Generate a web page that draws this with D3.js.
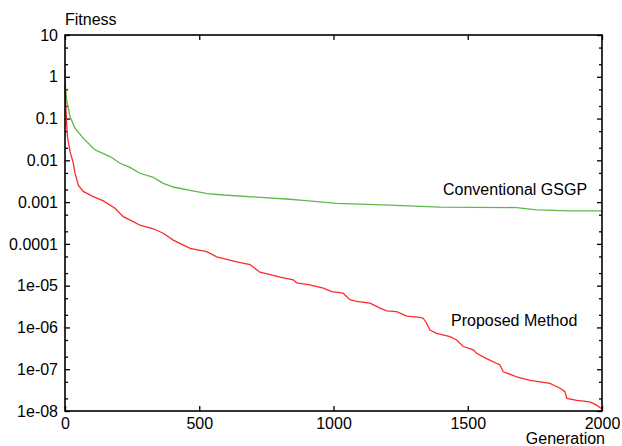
<!DOCTYPE html>
<html>
<head>
<meta charset="utf-8">
<script src="https://cdn.jsdelivr.net/npm/d3@7"></script>
<style>
  body { margin: 0; background: #fff; }
  svg text { font-family: "Liberation Sans", Arial, sans-serif; font-size: 16px; fill: #000; }
</style>
</head>
<body>
<svg id="chart"></svg>
<script>
// generations and best fitness
const propGen = [0, 3, 6, 9, 19, 31, 37, 50, 68, 105, 143, 186, 217, 254, 279, 329, 366, 403, 466, 528, 565, 640, 689, 726, 801, 850, 863, 912, 962, 993, 1036, 1061, 1086, 1136, 1173, 1198, 1235, 1273, 1322, 1334, 1347, 1359, 1384, 1434, 1459, 1483, 1521, 1533, 1570, 1620, 1632, 1682, 1732, 1806, 1844, 1862, 1869, 1906, 1955, 1980, 2000];
const propFit = [0.63, 0.2, 0.08, 0.037, 0.016, 0.0085, 0.005, 0.0025, 0.0018, 0.00135, 0.00107, 7.1e-4, 4.5e-4, 3.4e-4, 2.8e-4, 2.3e-4, 1.8e-4, 1.23e-4, 7.8e-5, 6.5e-5, 4.9e-5, 3.7e-5, 3.2e-5, 2.1e-5, 1.6e-5, 1.38e-5, 1.17e-5, 1.05e-5, 8.7e-6, 7.2e-6, 6.6e-6, 4.6e-6, 4.2e-6, 3.8e-6, 2.9e-6, 2.5e-6, 2.4e-6, 1.86e-6, 1.74e-6, 1.66e-6, 1.26e-6, 8.7e-7, 7.2e-7, 6.0e-7, 5.0e-7, 3.5e-7, 2.9e-7, 2.4e-7, 1.8e-7, 1.26e-7, 8.7e-8, 6.6e-8, 5.4e-8, 4.6e-8, 3.5e-8, 2.9e-8, 2.0e-8, 1.8e-8, 1.66e-8, 1.38e-8, 1.12e-8];

const convGen = [0, 2, 6, 19, 37, 68, 105, 118, 168, 205, 242, 279, 329, 366, 403, 466, 530, 590, 714, 838, 875, 1012, 1210, 1397, 1682, 1756, 1880, 2000];
const convFit = [1.5, 0.6, 0.28, 0.11, 0.059, 0.034, 0.0195, 0.017, 0.0123, 0.0085, 0.0068, 0.0049, 0.0039, 0.0028, 0.0023, 0.0019, 0.0016, 0.00148, 0.00132, 0.00117, 0.00112, 0.00093, 0.00085, 0.00076, 0.00074, 0.00065, 0.00062, 0.00062];

const yTicks = [10, 1, 0.1, 0.01, 0.001, 0.0001, 1e-5, 1e-6, 1e-7, 1e-8];
const yTickLabels = ["10", "1", "0.1", "0.01", "0.001", "0.0001", "1e-05", "1e-06", "1e-07", "1e-08"];
const yMinor = [5, 2, 0.5, 0.2, 0.05, 0.02, 0.005, 0.002, 5e-4, 2e-4, 5e-5, 2e-5, 5e-6, 2e-6, 5e-7, 2e-7, 5e-8, 2e-8];
const xTicks = [0, 500, 1000, 1500, 2000];

const width = 622, height = 446;
const plotLeft = 65, plotRight = 602, plotTop = 35, plotBottom = 411;

const svg = d3.select("#chart").attr("width", width).attr("height", height);

const x = d3.scaleLinear().domain([0, 2000]).range([plotLeft, plotRight]);
const y = d3.scaleLog().domain([1e-8, 10]).range([plotBottom, plotTop]);

// axes: ticks pointing inward, mirrored on top and right
svg.append("g")
    .attr("transform", `translate(${plotLeft},0)`)
    .call(d3.axisLeft(y).tickValues(yTicks).tickSize(-5).tickPadding(7)
      .tickFormat((d, i) => yTickLabels[i]));
svg.append("g")
    .attr("transform", `translate(${plotLeft},0)`)
    .call(d3.axisLeft(y).tickValues(yMinor).tickSize(-3).tickFormat(""));
svg.append("g")
    .attr("transform", `translate(${plotRight},0)`)
    .call(d3.axisRight(y).tickValues(yTicks).tickSize(-5).tickFormat(""));
svg.append("g")
    .attr("transform", `translate(${plotRight},0)`)
    .call(d3.axisRight(y).tickValues(yMinor).tickSize(-3).tickFormat(""));
svg.append("g")
    .attr("transform", `translate(0,${plotBottom})`)
    .call(d3.axisBottom(x).tickValues(xTicks).tickSize(-5).tickPadding(7)
      .tickFormat(d3.format("d")));
svg.append("g")
    .attr("transform", `translate(0,${plotTop})`)
    .call(d3.axisTop(x).tickValues(xTicks).tickSize(-5).tickFormat(""));

svg.selectAll(".domain").remove();
svg.selectAll(".tick line").attr("stroke", "#000").attr("stroke-width", 1.3);
svg.selectAll(".tick text").style("font-size", "16px").attr("font-family", null);

const line = d3.line().x(d => x(d[0])).y(d => y(d[1]));

svg.append("path")
    .datum(d3.zip(convGen, convFit))
    .attr("fill", "none")
    .attr("stroke", "#5cb947")
    .attr("stroke-width", 1.3)
    .attr("d", line);

svg.append("path")
    .datum(d3.zip(propGen, propFit))
    .attr("fill", "none")
    .attr("stroke", "#ff2a2a")
    .attr("stroke-width", 1.3)
    .attr("d", line);

// frame
svg.append("rect")
    .attr("x", plotLeft).attr("y", plotTop)
    .attr("width", plotRight - plotLeft).attr("height", plotBottom - plotTop)
    .attr("fill", "none").attr("stroke", "#000").attr("stroke-width", 1.6);

svg.append("text").attr("x", plotLeft).attr("y", 25).text("Fitness");
svg.append("text").attr("x", 605).attr("y", 444).attr("text-anchor", "end").text("Generation");
svg.append("text").attr("x", 443).attr("y", 195).text("Conventional GSGP");
svg.append("text").attr("x", 451).attr("y", 326).text("Proposed Method");
</script>
</body>
</html>
